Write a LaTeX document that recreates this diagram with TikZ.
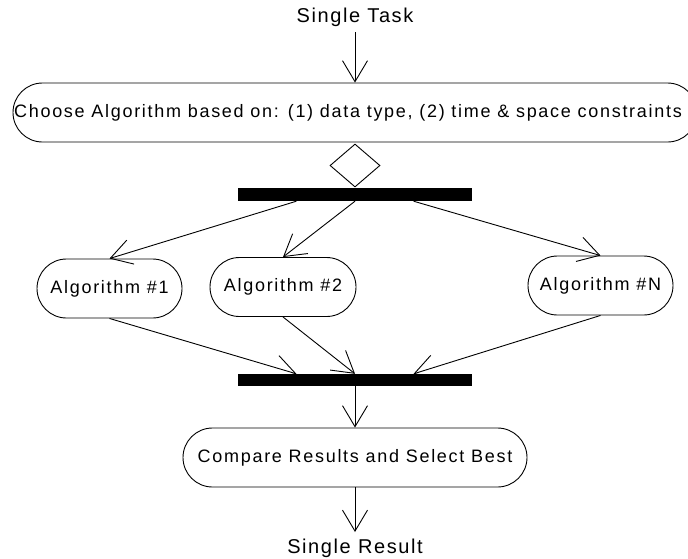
\documentclass[tikz,border=0pt]{standalone}
\usepackage{fontspec}
\setmainfont{Liberation Sans}[LetterSpace=9.5]
\usetikzlibrary{arrows.meta,shapes.geometric,calc}
\tikzset{
  act/.style={draw, line width=0.9pt, rectangle, rounded corners=29.5pt,
    minimum height=59pt, inner sep=0pt, font=\fontsize{18pt}{20pt}\selectfont},
  bar/.style={fill=black, draw=none, rectangle, inner sep=0pt, minimum width=234pt},
  lbl/.style={anchor=base, inner sep=0pt, font=\fontsize{20pt}{22pt}\selectfont\addfontfeatures{LetterSpace=8}},
  flow/.style={line width=0.9pt, -{Straight Barb[length=21pt,width=25pt,line width=0.9pt]}},
  dec/.style={draw, line width=0.9pt, shape=diamond, minimum width=50pt, minimum height=43pt, inner sep=0pt}
}
\begin{document}
\begin{tikzpicture}[x=1pt,y=-1pt]
\useasboundingbox (0,0) rectangle (688,558);
\clip (0,0) rectangle (688,558);
\node[lbl] (task) at (355,22) {Single Task};
\node[act, minimum width=684pt] (choose) at (355,112.5)
  {\makebox[684pt]{Choose Algorithm based on: (1) data type, (2) time \& space constraints\hspace{14pt}}};
\node[dec] (dia) at (355,165.5) {};
\node[bar, minimum height=13pt] (fork) at (355,194.5) {};
\node[act, minimum width=145pt] (alg1) at (109.5,288.5) {Algorithm \#1};
\node[act, minimum width=146pt] (alg2) at (283,287) {Algorithm \#2};
\node[act, minimum width=145pt] (algN) at (600.5,285.5) {Algorithm \#N};
\node[bar, minimum height=12pt] (join) at (355,380) {};
\node[act, minimum width=344pt] (cmp) at (355,457.5) {Compare Results and Select Best};
\node[lbl] (res) at (355,553) {Single Result};

\draw[flow] ([yshift=-10pt]task.base) -- (choose.north);
\draw[flow] ($(fork.south west)!0.25!(fork.south east)$) -- (alg1.north);
\draw[flow] (fork.south) -- (alg2.north);
\draw[flow] ($(fork.south west)!0.75!(fork.south east)$) -- (algN.north);
\draw[flow] (alg1.south) -- ($(join.north west)!0.25!(join.north east)$);
\draw[flow] (alg2.south) -- (join.north);
\draw[flow] (algN.south) -- ($(join.north west)!0.75!(join.north east)$);
\draw[flow] (join.south) -- (cmp.north);
\draw[flow] (cmp.south) -- ([yshift=21pt]res.base);
\end{tikzpicture}
\end{document}
